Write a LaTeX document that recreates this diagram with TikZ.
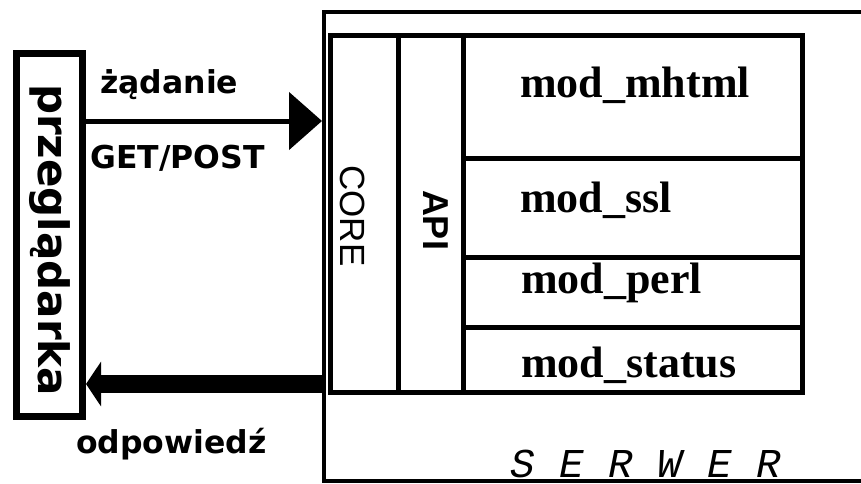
\documentclass[tikz,border=0pt]{standalone}
\usepackage{fontspec}
\usetikzlibrary{arrows.meta}
\newfontfamily\comicf{DejaVu Sans}
\newfontfamily\arialf{Liberation Sans}
\newfontfamily\tnrf{Liberation Serif}
\newfontfamily\courf{Liberation Mono}
\tikzset{
  cell/.style={draw, line width=5pt, inner sep=0pt, outer sep=0pt},
  modlabel/.style={anchor=base west, inner sep=0pt, font=\tnrf\bfseries\fontsize{44}{50}\selectfont},
  sidelabel/.style={anchor=base west, inner sep=0pt, font=\comicf\bfseries\fontsize{31.5}{36}\selectfont},
  reqarrow/.style={line width=5pt, -{Triangle[length=33pt,width=57pt]}},
  resparrow/.style={line width=18pt, -{Triangle[length=15pt,width=44pt]}},
}
\begin{document}
\begin{tikzpicture}[x=1pt,y=-1pt]
\useasboundingbox (0,0) rectangle (861,483);
\clip (0,0) rectangle (861,483);
% browser
\node (browser) [draw, line width=7pt, minimum width=66pt, minimum height=363pt, inner sep=0pt] at (49.5,235) {};
\node (browsertext) [rotate=-90, inner sep=0pt, font=\comicf\bfseries\fontsize{42}{48}\selectfont] at (50,240) {przeglądarka};
% server outer box
\node (serwer) [draw, line width=4pt, minimum width=578pt, minimum height=469pt, inner sep=0pt] at (613,246.5) {};
% inner cells
\node (core) [cell, minimum width=68pt, minimum height=357pt] at (364,213.5) {};
\node (api) [cell, minimum width=65pt, minimum height=357pt] at (430.5,213.5) {};
\node (mhtml) [cell, minimum width=339pt, minimum height=123pt] at (632.5,96.5) {};
\node (ssl) [cell, minimum width=339pt, minimum height=99pt] at (632.5,207.5) {};
\node (perl) [cell, minimum width=339pt, minimum height=70pt] at (632.5,292) {};
\node (status) [cell, minimum width=339pt, minimum height=65pt] at (632.5,359.5) {};
% cell labels
\node (coretext) [rotate=-90, inner sep=0pt, font=\arialf\fontsize{35}{40}\selectfont] at (353,216) {CORE};
\node (apitext) [rotate=-90, inner sep=0pt, font=\arialf\bfseries\fontsize{36}{40}\selectfont] at (436,220) {API};
\node (mhtmltext) [modlabel] at (520,97) {mod\_mhtml};
\node (ssltext) [modlabel] at (520,212) {mod\_ssl};
\node (perltext) [modlabel] at (521,293) {mod\_perl};
\node (statustext) [modlabel] at (521,377) {mod\_status};
\node (serwertext) [anchor=base west, inner sep=0pt, font=\courf\itshape\fontsize{41}{46}\selectfont] at (510,477) {S E R W E R};
% arrows
\coordinate (rq) at ([yshift=114pt]browser.east);
\draw[reqarrow] (rq) -- (rq -| serwer.west);
\coordinate (rs) at ([yshift=-149pt]browser.east);
\draw[resparrow] (rs -| serwer.west) -- (rs);
% arrow labels
\node (zadanie) [sidelabel] at (100,93) {żądanie};
\node (getpost) [sidelabel] at (90,168) {GET/POST};
\node (odpowiedz) [sidelabel] at (76,453) {odpowiedź};
\end{tikzpicture}
\end{document}
